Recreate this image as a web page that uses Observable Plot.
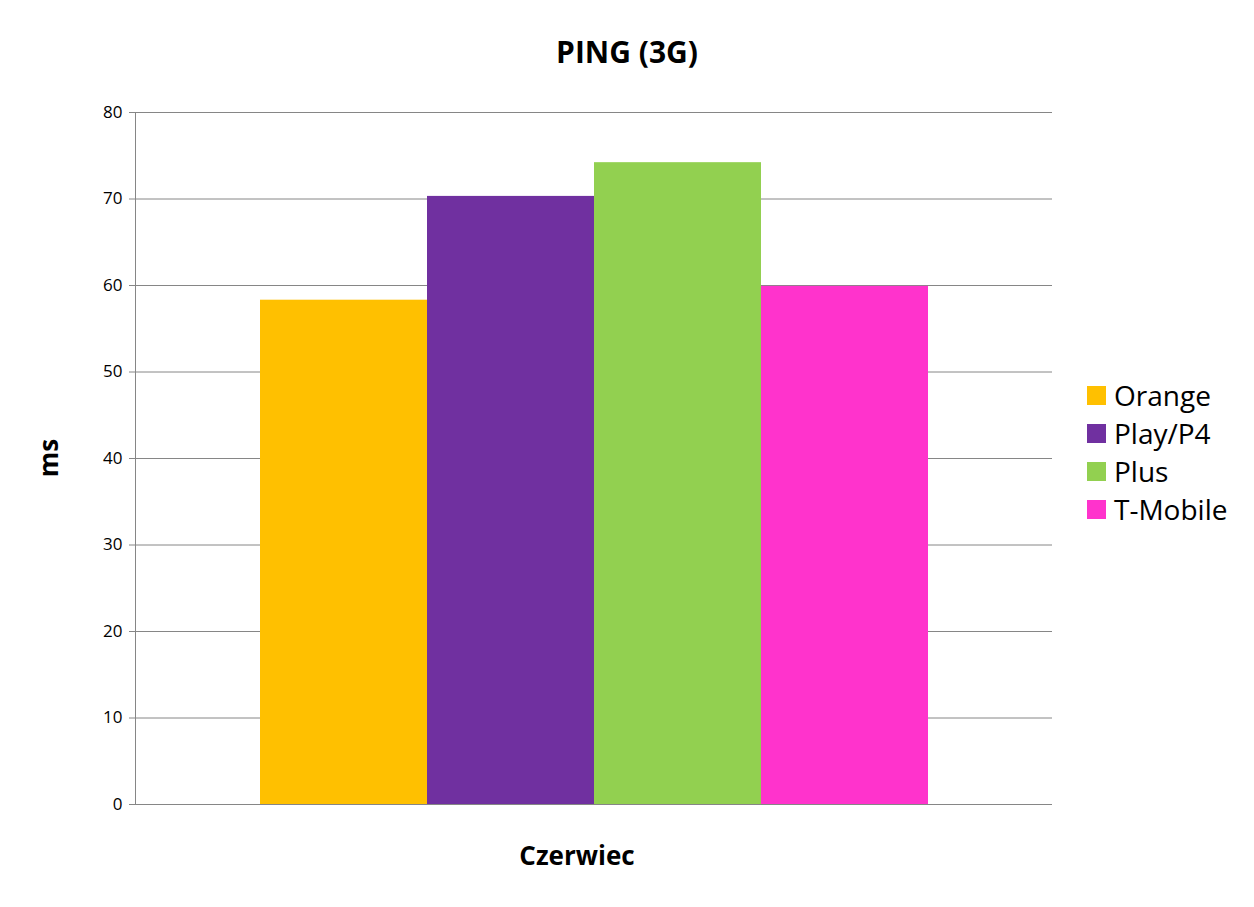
<!DOCTYPE html>
<html>
<head>
<meta charset="utf-8">
<script src="https://cdn.jsdelivr.net/npm/d3@7"></script>
<script src="https://cdn.jsdelivr.net/npm/@observablehq/plot@0.6"></script>
<style>
  html, body { margin: 0; padding: 0; background: #fff; }
  #chart { position: relative; width: 1254px; height: 907px; font-family: "Open Sans", sans-serif; }
  #chart svg { position: absolute; left: 0; top: 0; }
  .title { position: absolute; left: 0; width: 1254px; top: 30px; text-align: center; font-weight: bold; font-size: 30px; line-height: 44px; color: #000; }
  .ylab { position: absolute; left: 48px; top: 458px; transform: translate(-50%, -50%) rotate(-90deg); font-weight: bold; font-size: 26px; color: #000; }
  .legend { position: absolute; left: 1087px; top: 376px; }
  .legend div { display: flex; align-items: center; height: 38px; font-size: 28px; color: #000; }
  .legend span.sw { display: inline-block; width: 19px; height: 19px; margin-right: 8px; }
</style>
</head>
<body>
<div id="chart"></div>
<script>
// Average ping on 3G networks, June
const month = "Czerwiec";
const operators = ["Orange", "Play/P4", "Plus", "T-Mobile"];
const pingMs = [58.3, 70.3, 74.2, 59.9];
const colors = ["#FFC000", "#7030A0", "#92D050", "#FF33CC"];
const yTicks = [0, 10, 20, 30, 40, 50, 60, 70, 80];

const data = operators.map((op, i) => ({month, operator: op, ping: pingMs[i]}));
const axisGray = "#868686";

const plot = Plot.plot({
  width: 1254,
  height: 907,
  marginTop: 112,
  marginBottom: 103,
  marginLeft: 135,
  marginRight: 202,
  style: {fontFamily: "Open Sans, sans-serif", color: "#000", background: "#fff"},
  fx: {domain: [month], padding: 0, label: null},
  x: {domain: operators, paddingInner: 0, paddingOuter: 0.74, axis: null},
  y: {domain: [0, 80], label: null},
  color: {domain: operators, range: colors},
  marks: [
    Plot.gridY(yTicks, {stroke: axisGray, strokeOpacity: 1, strokeWidth: 1}),
    Plot.barY(data, {fx: "month", x: "operator", y: "ping", fill: "operator", inset: 0}),
    Plot.ruleY([0], {stroke: axisGray, strokeWidth: 1}),
    Plot.frame({anchor: "left", stroke: axisGray, strokeWidth: 1}),
    Plot.axisY(yTicks, {tickSize: 6, tickPadding: 7, fontSize: 17, stroke: axisGray, label: null, tickFormat: d => d}),
    Plot.axisFx({anchor: "bottom", tickSize: 0, tickPadding: 42, dx: -17, fontSize: 26, fontWeight: "bold", label: null})
  ]
});
const root = document.getElementById("chart");
root.appendChild(plot);

const title = document.createElement("div");
title.className = "title";
title.textContent = "PING (3G)";
root.appendChild(title);

const ylab = document.createElement("div");
ylab.className = "ylab";
ylab.textContent = "ms";
root.appendChild(ylab);

const legend = document.createElement("div");
legend.className = "legend";
operators.forEach((op, i) => {
  const row = document.createElement("div");
  const sw = document.createElement("span");
  sw.className = "sw";
  sw.style.background = colors[i];
  row.appendChild(sw);
  row.appendChild(document.createTextNode(op));
  legend.appendChild(row);
});
root.appendChild(legend);
</script>
</body>
</html>
